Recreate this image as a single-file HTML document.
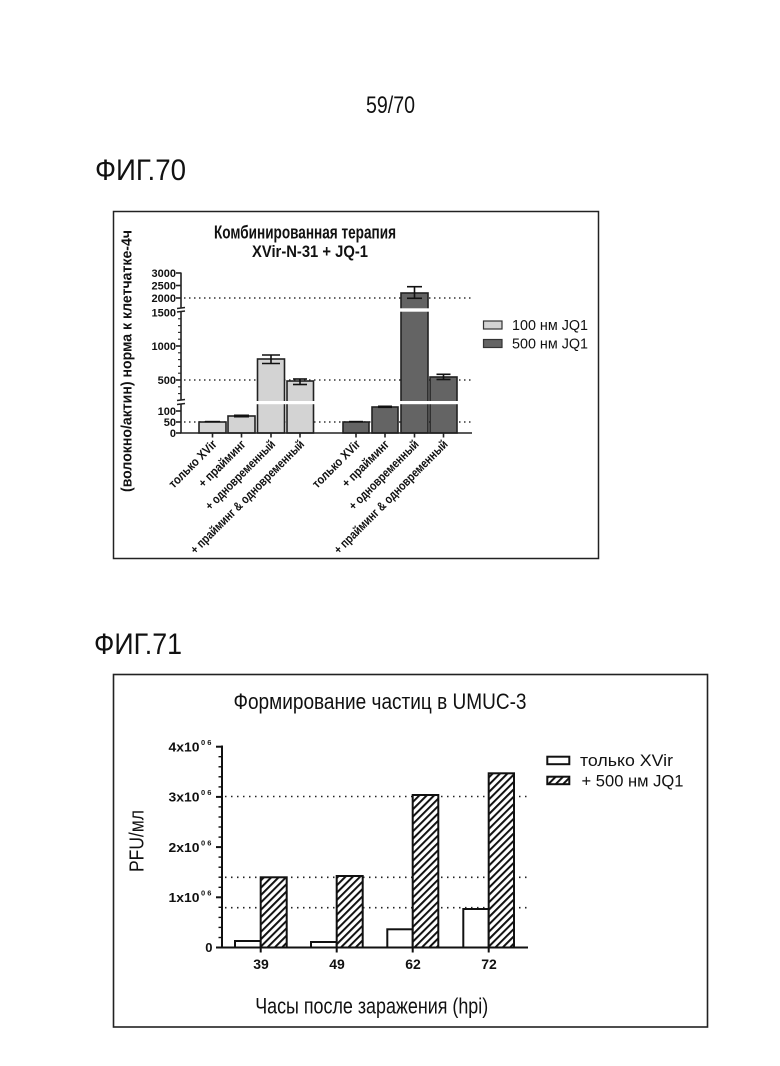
<!DOCTYPE html>
<html><head><meta charset="utf-8"><style>
html,body{margin:0;padding:0;background:#fff;}
svg{display:block;}
text{font-family:"Liberation Sans","Noto Sans CJK SC",sans-serif;fill:#111;}
.b{font-weight:bold;}
</style></head><body>
<svg width="780" height="1066" viewBox="0 0 780 1066" xmlns="http://www.w3.org/2000/svg">
<defs>
<pattern id="hatch" patternUnits="userSpaceOnUse" width="5.2" height="5.2" patternTransform="rotate(45)">
<rect x="0" y="0" width="5.2" height="5.2" fill="#fff"/>
<rect x="0" y="0" width="2" height="5.2" fill="#111"/>
</pattern>
</defs>
<rect width="780" height="1066" fill="#fff"/>

<!-- header -->
<text x="390.5" y="113" font-size="24" text-anchor="middle" textLength="49" lengthAdjust="spacingAndGlyphs">59/70</text>
<text x="95" y="180" font-size="30" textLength="91" lengthAdjust="spacingAndGlyphs">ФИГ.70</text>
<text x="94" y="654" font-size="30" textLength="88" lengthAdjust="spacingAndGlyphs">ФИГ.71</text>

<!-- ================= CHART 1 ================= -->
<rect x="113.5" y="211.5" width="485" height="347" fill="none" stroke="#222" stroke-width="1.5"/>
<text class="b" x="305" y="238.5" font-size="18" text-anchor="middle" textLength="182" lengthAdjust="spacingAndGlyphs">Комбинированная терапия</text>
<text class="b" x="310" y="257" font-size="17" text-anchor="middle" textLength="116" lengthAdjust="spacingAndGlyphs">XVir-N-31 + JQ-1</text>
<text class="b" transform="translate(131.5,361) rotate(-90)" font-size="15" text-anchor="middle" textLength="262" lengthAdjust="spacingAndGlyphs">(волокно/актин) норма к клетчатке-4ч</text>

<!-- dotted refs -->
<g stroke="#333" stroke-width="1.5" stroke-dasharray="1.5 3.5">
<line x1="184" y1="298" x2="472" y2="298"/>
<line x1="184" y1="380" x2="472" y2="380"/>
<line x1="184" y1="422" x2="472" y2="422"/>
</g>

<!-- bars -->
<g stroke="#222" stroke-width="1.6">
<rect x="199" y="422" width="27" height="11" fill="#d3d3d3"/>
<rect x="228" y="416" width="27" height="17" fill="#d3d3d3"/>
<rect x="257.5" y="359" width="27" height="74" fill="#d3d3d3"/>
<rect x="287" y="381" width="26.5" height="52" fill="#d3d3d3"/>
<rect x="343" y="422" width="26" height="11" fill="#646464"/>
<rect x="372" y="407" width="26" height="26" fill="#646464"/>
<rect x="401" y="293" width="27" height="140" fill="#646464"/>
<rect x="430" y="377" width="27" height="56" fill="#646464"/>
</g>
<!-- break gaps -->
<g fill="#fff">
<rect x="255.5" y="401" width="60" height="3.2"/>
<rect x="399.5" y="401" width="59" height="3.2"/>
<rect x="399.5" y="308.3" width="30" height="3.4"/>
</g>
<!-- error bars -->
<g stroke="#111" stroke-width="1.6" fill="none">
<line x1="205" y1="421.6" x2="220" y2="421.6"/>
<rect x="234" y="414.5" width="15" height="3" fill="#111" stroke="none"/>
<line x1="271" y1="355" x2="271" y2="363.5"/>
<line x1="262" y1="355" x2="280" y2="355"/>
<line x1="262" y1="363.5" x2="280" y2="363.5"/>
<line x1="300" y1="379" x2="300" y2="384.5"/>
<line x1="293" y1="379" x2="307" y2="379"/>
<line x1="293" y1="384.5" x2="307" y2="384.5"/>
<line x1="349" y1="421.6" x2="363" y2="421.6"/>
<rect x="378" y="405.5" width="14" height="2.6" fill="#111" stroke="none"/>
<line x1="414.5" y1="286.7" x2="414.5" y2="298.3"/>
<line x1="407" y1="286.7" x2="422" y2="286.7"/>
<line x1="407" y1="298.3" x2="422" y2="298.3"/>
<line x1="443.5" y1="374.3" x2="443.5" y2="379.5"/>
<line x1="436.5" y1="374.3" x2="450.5" y2="374.3"/>
<line x1="436.5" y1="379.5" x2="450.5" y2="379.5"/>
</g>

<!-- y axis chart1 -->
<g stroke="#222" stroke-width="1.6" fill="none">
<line x1="181" y1="272.5" x2="181" y2="308"/>
<line x1="181" y1="312" x2="181" y2="400"/>
<line x1="181" y1="404.5" x2="181" y2="433"/>
<line x1="177" y1="308.5" x2="185" y2="307.5"/>
<line x1="177" y1="312" x2="185" y2="311"/>
<line x1="177" y1="400.5" x2="185" y2="399.5"/>
<line x1="177" y1="404.5" x2="185" y2="403.5"/>
<line x1="176" y1="273" x2="181" y2="273"/>
<line x1="176" y1="285.5" x2="181" y2="285.5"/>
<line x1="176" y1="298" x2="181" y2="298"/>
<line x1="176" y1="346" x2="181" y2="346"/>
<line x1="176" y1="380" x2="181" y2="380"/>
<line x1="176" y1="411" x2="181" y2="411"/>
<line x1="176" y1="422" x2="181" y2="422"/>
<line x1="176" y1="433" x2="181" y2="433"/>
</g>
<g stroke="#222" stroke-width="1.1">
<line x1="178" y1="318.8" x2="181" y2="318.8"/>
<line x1="178" y1="325.6" x2="181" y2="325.6"/>
<line x1="178" y1="332.4" x2="181" y2="332.4"/>
<line x1="178" y1="339.2" x2="181" y2="339.2"/>
<line x1="178" y1="352.8" x2="181" y2="352.8"/>
<line x1="178" y1="359.6" x2="181" y2="359.6"/>
<line x1="178" y1="366.4" x2="181" y2="366.4"/>
<line x1="178" y1="373.2" x2="181" y2="373.2"/>
<line x1="178" y1="386.8" x2="181" y2="386.8"/>
<line x1="178" y1="393.6" x2="181" y2="393.6"/>
</g>
<g font-size="11" text-anchor="end">
<text class="b" x="176" y="277">3000</text>
<text class="b" x="176" y="289.5">2500</text>
<text class="b" x="176" y="302">2000</text>
<text class="b" x="176" y="316.5">1500</text>
<text class="b" x="176" y="350">1000</text>
<text class="b" x="176" y="384">500</text>
<text class="b" x="176" y="415">100</text>
<text class="b" x="176" y="426">50</text>
<text class="b" x="176" y="437">0</text>
</g>

<!-- x axis chart1 -->
<g stroke="#222" stroke-width="1.6">
<line x1="180.2" y1="433" x2="472" y2="433"/>
<line x1="212.5" y1="433" x2="212.5" y2="437.5"/>
<line x1="241.5" y1="433" x2="241.5" y2="437.5"/>
<line x1="271" y1="433" x2="271" y2="437.5"/>
<line x1="300" y1="433" x2="300" y2="437.5"/>
<line x1="356" y1="433" x2="356" y2="437.5"/>
<line x1="385" y1="433" x2="385" y2="437.5"/>
<line x1="414.5" y1="433" x2="414.5" y2="437.5"/>
<line x1="443.5" y1="433" x2="443.5" y2="437.5"/>
</g>
<g font-size="12.5" text-anchor="end">
<text class="b" transform="translate(217.5,445) rotate(-45)" textLength="62" lengthAdjust="spacingAndGlyphs">только XVir</text>
<text class="b" transform="translate(246.5,445) rotate(-45)" textLength="61" lengthAdjust="spacingAndGlyphs">+ прайминг</text>
<text class="b" transform="translate(276,445) rotate(-45)" textLength="93" lengthAdjust="spacingAndGlyphs">+ одновременный</text>
<text class="b" transform="translate(305,445) rotate(-45)" textLength="155" lengthAdjust="spacingAndGlyphs">+ прайминг &amp; одновременный</text>
<text class="b" transform="translate(361,445) rotate(-45)" textLength="62" lengthAdjust="spacingAndGlyphs">только XVir</text>
<text class="b" transform="translate(390,445) rotate(-45)" textLength="61" lengthAdjust="spacingAndGlyphs">+ прайминг</text>
<text class="b" transform="translate(419.5,445) rotate(-45)" textLength="93" lengthAdjust="spacingAndGlyphs">+ одновременный</text>
<text class="b" transform="translate(448.5,445) rotate(-45)" textLength="155" lengthAdjust="spacingAndGlyphs">+ прайминг &amp; одновременный</text>
</g>

<!-- legend chart1 -->
<rect x="483.5" y="321" width="18.5" height="8" fill="#d3d3d3" stroke="#333" stroke-width="1.2"/>
<text x="512" y="330" font-size="15" textLength="76" lengthAdjust="spacingAndGlyphs">100 нм JQ1</text>
<rect x="483.5" y="339.5" width="18.5" height="8" fill="#646464" stroke="#333" stroke-width="1.2"/>
<text x="512" y="348.5" font-size="15" textLength="76" lengthAdjust="spacingAndGlyphs">500 нм JQ1</text>

<!-- ================= CHART 2 ================= -->
<rect x="113.5" y="674.5" width="594" height="352.5" fill="none" stroke="#222" stroke-width="1.6"/>
<text x="380" y="709" font-size="22" text-anchor="middle" textLength="293" lengthAdjust="spacingAndGlyphs">Формирование частиц в UMUC-3</text>
<text transform="translate(143.5,841) rotate(-90)" font-size="20" text-anchor="middle" textLength="62" lengthAdjust="spacingAndGlyphs">PFU/мл</text>

<g stroke="#222" stroke-width="1.6" stroke-dasharray="1.5 4.5">
<line x1="225" y1="796.5" x2="528" y2="796.5"/>
<line x1="225" y1="877.3" x2="528" y2="877.3"/>
<line x1="225" y1="907.7" x2="528" y2="907.7"/>
</g>

<g stroke="#111" stroke-width="2">
<rect x="235" y="941" width="25.7" height="6.5" fill="#fff"/>
<rect x="260.7" y="877.3" width="26" height="70.2" fill="url(#hatch)"/>
<rect x="311" y="942" width="25.7" height="5.5" fill="#fff"/>
<rect x="336.7" y="876" width="26" height="71.5" fill="url(#hatch)"/>
<rect x="387.3" y="929.3" width="25.4" height="18.2" fill="#fff"/>
<rect x="412.7" y="795" width="25.6" height="152.5" fill="url(#hatch)"/>
<rect x="463.3" y="909" width="25.4" height="38.5" fill="#fff"/>
<rect x="488.7" y="773.3" width="25.3" height="174.2" fill="url(#hatch)"/>
</g>

<!-- axes chart2 -->
<g stroke="#111" stroke-width="2">
<line x1="222" y1="745.5" x2="222" y2="948.5"/>
<line x1="221" y1="947.5" x2="528" y2="947.5"/>
<line x1="216" y1="746.7" x2="222" y2="746.7"/>
<line x1="216" y1="796.9" x2="222" y2="796.9"/>
<line x1="216" y1="847.1" x2="222" y2="847.1"/>
<line x1="216" y1="897.3" x2="222" y2="897.3"/>
<line x1="216" y1="947.5" x2="222" y2="947.5"/>
<line x1="260.7" y1="947.5" x2="260.7" y2="952.5"/>
<line x1="336.7" y1="947.5" x2="336.7" y2="952.5"/>
<line x1="412.7" y1="947.5" x2="412.7" y2="952.5"/>
<line x1="488.7" y1="947.5" x2="488.7" y2="952.5"/>
</g>
<g stroke="#111" stroke-width="1.4">
<line x1="218.5" y1="756.7" x2="222" y2="756.7"/>
<line x1="218.5" y1="766.8" x2="222" y2="766.8"/>
<line x1="218.5" y1="776.8" x2="222" y2="776.8"/>
<line x1="218.5" y1="786.9" x2="222" y2="786.9"/>
<line x1="218.5" y1="806.9" x2="222" y2="806.9"/>
<line x1="218.5" y1="817.0" x2="222" y2="817.0"/>
<line x1="218.5" y1="827.0" x2="222" y2="827.0"/>
<line x1="218.5" y1="837.1" x2="222" y2="837.1"/>
<line x1="218.5" y1="857.1" x2="222" y2="857.1"/>
<line x1="218.5" y1="867.2" x2="222" y2="867.2"/>
<line x1="218.5" y1="877.2" x2="222" y2="877.2"/>
<line x1="218.5" y1="887.3" x2="222" y2="887.3"/>
<line x1="218.5" y1="907.3" x2="222" y2="907.3"/>
<line x1="218.5" y1="917.4" x2="222" y2="917.4"/>
<line x1="218.5" y1="927.4" x2="222" y2="927.4"/>
<line x1="218.5" y1="937.5" x2="222" y2="937.5"/>
</g>
<g font-size="13">
<text class="b" x="199.5" y="751.4" text-anchor="end" textLength="31" lengthAdjust="spacingAndGlyphs">4x10</text>
<text class="b" x="201" y="745" font-size="7.5">0 6</text>
<text class="b" x="199.5" y="801.6" text-anchor="end" textLength="31" lengthAdjust="spacingAndGlyphs">3x10</text>
<text class="b" x="201" y="795.2" font-size="7.5">0 6</text>
<text class="b" x="199.5" y="851.8" text-anchor="end" textLength="31" lengthAdjust="spacingAndGlyphs">2x10</text>
<text class="b" x="201" y="845.4" font-size="7.5">0 6</text>
<text class="b" x="199.5" y="902" text-anchor="end" textLength="31" lengthAdjust="spacingAndGlyphs">1x10</text>
<text class="b" x="201" y="895.6" font-size="7.5">0 6</text>
<text class="b" x="212.5" y="952.2" text-anchor="end">0</text>
</g>
<g font-size="14" text-anchor="middle">
<text class="b" x="261" y="969">39</text>
<text class="b" x="337" y="969">49</text>
<text class="b" x="413" y="969">62</text>
<text class="b" x="489" y="969">72</text>
</g>
<text x="371.7" y="1013.5" font-size="22" text-anchor="middle" textLength="233" lengthAdjust="spacingAndGlyphs">Часы после заражения (hpi)</text>

<!-- legend chart2 -->
<rect x="547.3" y="756.7" width="22" height="7.5" fill="#fff" stroke="#111" stroke-width="2"/>
<text x="580" y="766" font-size="16.5" textLength="93" lengthAdjust="spacingAndGlyphs">только XVir</text>
<rect x="547.3" y="776.7" width="22" height="7.5" fill="url(#hatch)" stroke="#111" stroke-width="2"/>
<text x="581.5" y="786.5" font-size="16.5" textLength="102" lengthAdjust="spacingAndGlyphs">+ 500 нм JQ1</text>
</svg>
</body></html>
